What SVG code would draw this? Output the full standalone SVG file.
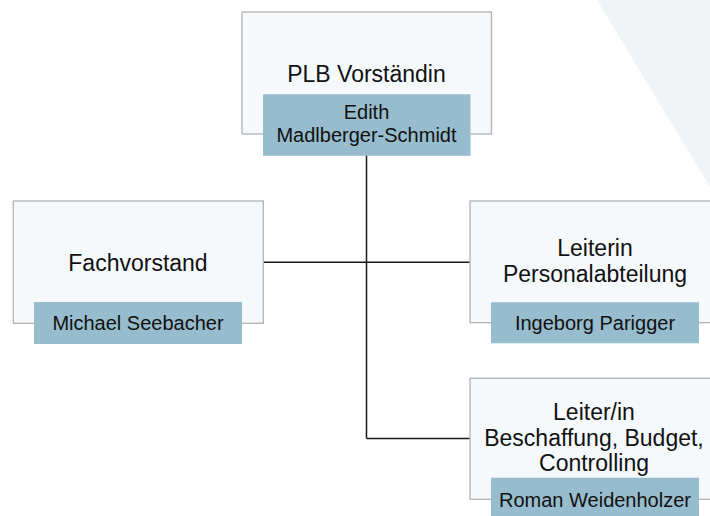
<svg xmlns="http://www.w3.org/2000/svg" width="710" height="516" viewBox="0 0 710 516">
<style>
.card{fill:#f5f9fc;stroke:#b3b3b3;stroke-width:1.3}
.name{fill:#97bccd}
.t{font-family:"Liberation Sans",Arial,sans-serif;fill:#111;text-anchor:middle}
.title{font-size:23px}
.nm{font-size:20px}
.conn{stroke:#1a1a1a;stroke-width:1.5;fill:none}
</style>
<rect width="710" height="516" fill="#ffffff"/>
<polygon points="597,0 710,0 710,187" fill="#f0f4f7"/>
<g id="connectors">
<line class="conn" x1="366.5" y1="155" x2="366.5" y2="438.5"/>
<line class="conn" x1="263" y1="262.3" x2="470" y2="262.3"/>
<line class="conn" x1="366.5" y1="438.5" x2="470" y2="438.5"/>
</g>
<g id="node-plb">
<rect class="card" x="242" y="12" width="249.5" height="122"/>
<text class="t title" x="366.5" y="82">PLB Vorständin</text>
<rect class="name" x="263" y="94.3" width="207.5" height="61.5"/>
<text class="t nm" x="366.5" y="119">Edith</text>
<text class="t nm" x="366.5" y="141.5">Madlberger-Schmidt</text>
</g>
<g id="node-fachvorstand">
<rect class="card" x="13.3" y="201" width="250" height="122.3"/>
<text class="t title" x="138" y="271">Fachvorstand</text>
<rect class="name" x="34" y="302" width="208" height="42"/>
<text class="t nm" x="138" y="330">Michael Seebacher</text>
</g>
<g id="node-personal">
<rect class="card" x="470" y="201" width="250" height="121.7"/>
<text class="t title" x="595" y="256">Leiterin</text>
<text class="t title" x="595" y="282.3">Personalabteilung</text>
<rect class="name" x="491" y="302.3" width="208" height="41"/>
<text class="t nm" x="595" y="330">Ingeborg Parigger</text>
</g>
<g id="node-beschaffung">
<rect class="card" x="470" y="378.3" width="250" height="121"/>
<text class="t title" x="594" y="420">Leiter/in</text>
<text class="t title" x="594" y="445.5">Beschaffung, Budget,</text>
<text class="t title" x="594" y="470.5">Controlling</text>
<rect class="name" x="491" y="477.7" width="208" height="40"/>
<text class="t nm" x="595" y="506.5">Roman Weidenholzer</text>
</g>
</svg>
